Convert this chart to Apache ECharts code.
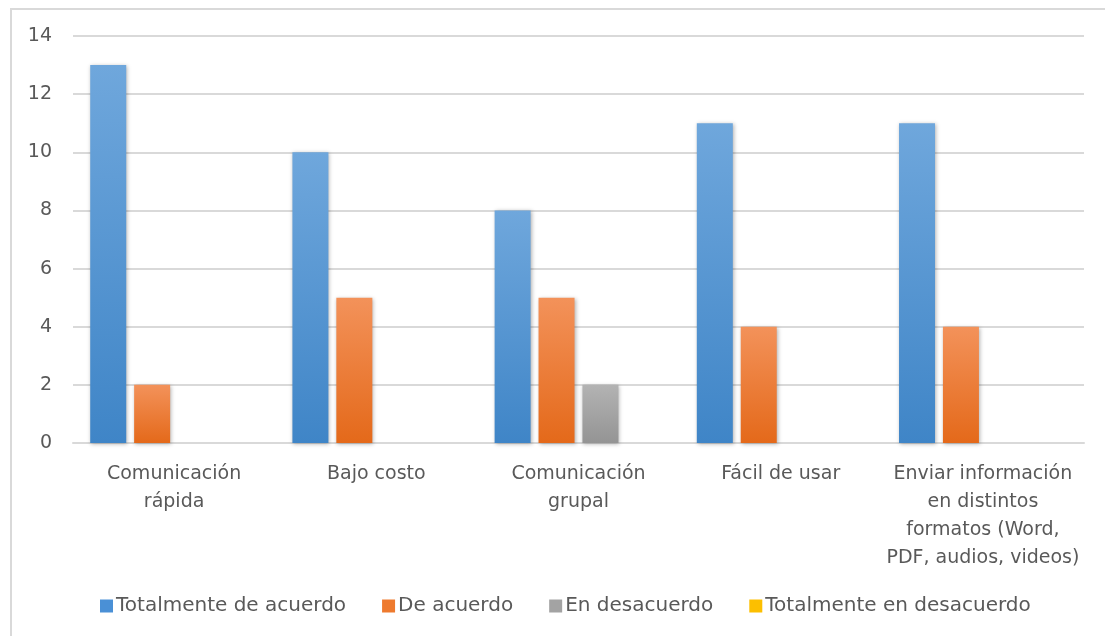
<!DOCTYPE html>
<html>
<head>
<meta charset="utf-8">
<script src="https://cdn.jsdelivr.net/npm/echarts@6/dist/echarts.min.js"></script>
<style>
  html, body { margin: 0; padding: 0; background: #fff; }
  #frame { position: absolute; left: 10px; top: 8px; width: 1200px; height: 700px; border: 2px solid #d9d9d9; box-sizing: border-box; }
  #chart { position: absolute; left: 0; top: 0; width: 1105px; height: 636px; }
</style>
</head>
<body>
<div id="frame"></div>
<div id="chart"></div>
<script>
// categorías (eje x)
const categories = [
  'Comunicación\nrápida',
  'Bajo costo',
  'Comunicación\ngrupal',
  'Fácil de usar',
  'Enviar información\nen distintos\nformatos (Word,\nPDF, audios, videos)'
];
const seriesNames = ['Totalmente de acuerdo', 'De acuerdo', 'En desacuerdo', 'Totalmente en desacuerdo'];
const totalmenteDeAcuerdo = [13, 10, 8, 11, 11];
const deAcuerdo = [2, 5, 5, 4, 4];
const enDesacuerdo = [0, 0, 2, 0, 0];
const totalmenteEnDesacuerdo = [0, 0, 0, 0, 0];
const yTicks = [0, 2, 4, 6, 8, 10, 12, 14];

const seriesValues = [totalmenteDeAcuerdo, deAcuerdo, enDesacuerdo, totalmenteEnDesacuerdo];
const gradients = [
  ['#6fa7dc', '#3f85c7'],
  ['#f3925a', '#e4691a'],
  ['#b3b3b3', '#949494'],
  ['#ffca2c', '#f0b400']
];
const legendColors = ['#4a90d6', '#ee7a2e', '#a3a3a3', '#fcbf00'];

function grad(c) {
  return new echarts.graphic.LinearGradient(0, 0, 0, 1, [
    { offset: 0, color: c[0] },
    { offset: 1, color: c[1] }
  ]);
}

const chart = echarts.init(document.getElementById('chart'), null, { renderer: 'canvas' });
const font = 'DejaVu Sans';

const option = {
  animation: false,
  textStyle: { fontFamily: font },
  grid: { left: 73, right: 21, top: 36, bottom: 193, containLabel: false },
  legend: {
    bottom: 15,
    left: 95,
    itemWidth: 13,
    itemHeight: 13,
    itemGap: 36,
    icon: 'rect',
    textStyle: { color: '#595959', fontSize: 20, fontFamily: font, padding: [0, 0, 0, -2] },
    data: seriesNames.map((n, i) => ({ name: n, itemStyle: { color: legendColors[i] } }))
  },
  xAxis: {
    type: 'category',
    data: categories,
    axisLine: { lineStyle: { color: '#d9d9d9', width: 2 } },
    axisTick: { show: false },
    axisLabel: { color: '#595959', fontSize: 19, lineHeight: 28, margin: 17, interval: 0, fontFamily: font }
  },
  yAxis: {
    type: 'value',
    min: 0,
    max: 14,
    interval: 2,
    axisLine: { show: false },
    axisTick: { show: false },
    splitLine: { lineStyle: { color: '#d9d9d9', width: 2 } },
    axisLabel: {
      color: '#595959', fontSize: 19, margin: 21, fontFamily: font,
      formatter: v => (yTicks.includes(v) ? String(v) : '')
    }
  },
  series: seriesNames.map((n, i) => ({
    name: n,
    type: 'bar',
    data: seriesValues[i],
    barWidth: 36,
    barGap: '22%',
    itemStyle: {
      color: grad(gradients[i]),
      shadowBlur: 4,
      shadowColor: 'rgba(0,0,0,0.3)',
      shadowOffsetX: 1,
      shadowOffsetY: 1
    }
  }))
};

chart.setOption(option);
</script>
</body>
</html>
